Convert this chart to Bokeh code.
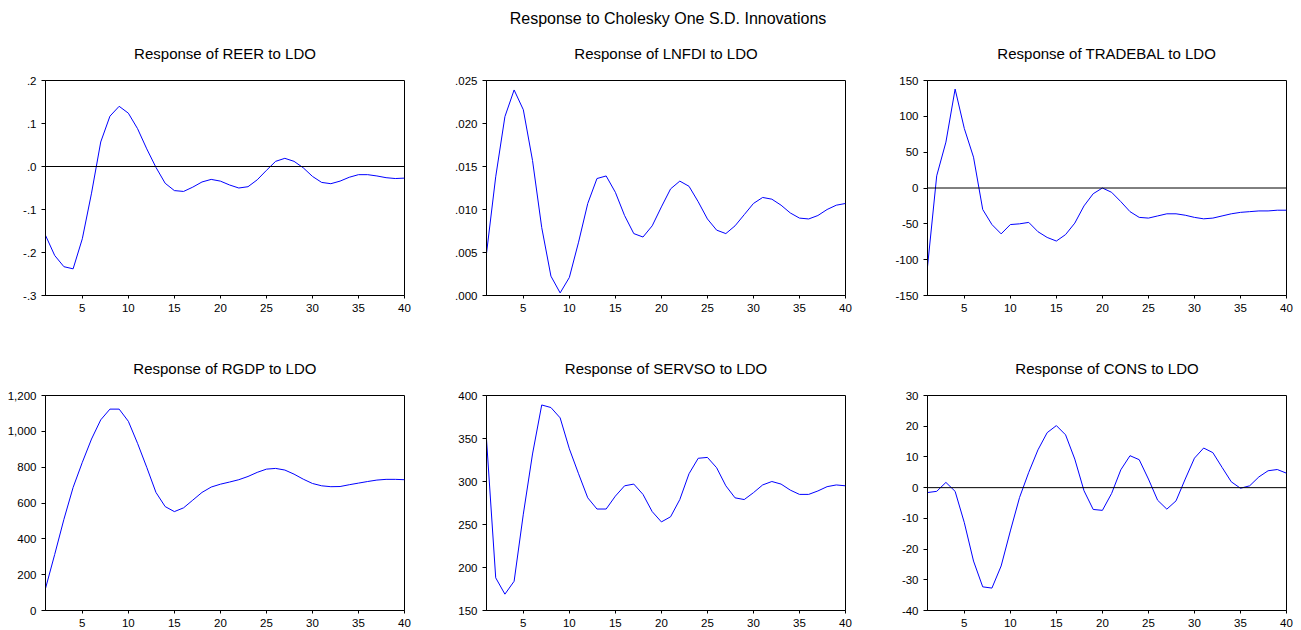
from bokeh.plotting import figure
from bokeh.layouts import column, row
from bokeh.models import FixedTicker, Span, Range1d, ColumnDataSource
from bokeh.embed import file_html
from bokeh.resources import INLINE

main_title = "Response to Cholesky One S.D. Innovations"
periods = list(range(1, 41))
x_ticks = [5, 10, 15, 20, 25, 30, 35, 40]

reer = [-0.160, -0.207, -0.233, -0.238, -0.168, -0.062, 0.057, 0.117, 0.140, 0.124,
        0.088, 0.041, -0.002, -0.039, -0.056, -0.058, -0.048, -0.036, -0.030, -0.034,
        -0.043, -0.050, -0.047, -0.031, -0.009, 0.012, 0.019, 0.012, -0.003, -0.023,
        -0.037, -0.040, -0.034, -0.025, -0.019, -0.019, -0.022, -0.026, -0.028, -0.027]
lnfdi = [0.0049, 0.0138, 0.0208, 0.0239, 0.0216, 0.0157, 0.0079, 0.00225, 0.0003, 0.0021,
         0.0062, 0.0107, 0.0136, 0.0139, 0.0120, 0.0093, 0.0072, 0.0068, 0.0081, 0.0103,
         0.0124, 0.0133, 0.0127, 0.0109, 0.0089, 0.0076, 0.0072, 0.0081, 0.0094, 0.0107,
         0.0114, 0.0112, 0.0105, 0.0096, 0.0090, 0.0089, 0.0093, 0.0100, 0.0105, 0.0107]
tradebal = [-110, 17, 64, 138, 83, 43, -30, -51, -64, -51,
            -50, -48, -61, -69, -74, -65, -49, -25, -8, 0,
            -6, -19, -33, -41, -42, -39, -36, -36, -38, -41,
            -43, -42, -39, -36, -34, -33, -32, -32, -31, -31]
rgdp = [123, 313, 509, 687, 827, 957, 1064, 1124, 1124, 1056,
        933, 799, 659, 580, 552, 573, 616, 659, 689, 705,
        717, 730, 748, 771, 789, 793, 784, 761, 733, 709,
        696, 691, 692, 702, 711, 720, 728, 732, 732, 730]
servso = [349, 188, 169, 184, 262, 332, 389, 386, 374, 338,
          309, 281, 268, 268, 283, 295, 297, 285, 265, 253,
          259, 279, 309, 327, 328, 316, 295, 281, 279, 287,
          296, 300, 297, 290, 285, 285, 289, 294, 296, 295]
cons = [-1.6, -1.2, 1.7, -1.2, -11.4, -23.9, -32.3, -32.7, -25.5, -14.1,
        -3.2, 5.0, 12.3, 17.9, 20.2, 17.2, 9.3, -1.0, -7.1, -7.4,
        -1.9, 5.8, 10.4, 9.1, 2.8, -4.1, -7.0, -4.3, 2.8, 9.6,
        12.9, 11.4, 6.6, 1.9, -0.2, 0.6, 3.5, 5.5, 5.9, 4.7]

titles = ["Response of REER to LDO", "Response of LNFDI to LDO", "Response of TRADEBAL to LDO",
          "Response of RGDP to LDO", "Response of SERVSO to LDO", "Response of CONS to LDO"]

ticks_reer = [-0.3, -0.2, -0.1, 0.0, 0.1, 0.2]
labels_reer = ["-.3", "-.2", "-.1", ".0", ".1", ".2"]
ticks_lnfdi = [0.0, 0.005, 0.01, 0.015, 0.02, 0.025]
labels_lnfdi = [".000", ".005", ".010", ".015", ".020", ".025"]
ticks_trade = [-150, -100, -50, 0, 50, 100, 150]
labels_trade = ["-150", "-100", "-50", "0", "50", "100", "150"]
ticks_rgdp = [0, 200, 400, 600, 800, 1000, 1200]
labels_rgdp = ["0", "200", "400", "600", "800", "1,000", "1,200"]
ticks_serv = [150, 200, 250, 300, 350, 400]
labels_serv = ["150", "200", "250", "300", "350", "400"]
ticks_cons = [-40, -30, -20, -10, 0, 10, 20, 30]
labels_cons = ["-40", "-30", "-20", "-10", "0", "10", "20", "30"]

all_ticks = [ticks_reer, ticks_lnfdi, ticks_trade, ticks_rgdp, ticks_serv, ticks_cons]
all_labels = [labels_reer, labels_lnfdi, labels_trade, labels_rgdp, labels_serv, labels_cons]
zero_lines = [True, False, True, False, False, True]

FONT = "Liberation Sans"

src = ColumnDataSource(dict(period=periods, reer=reer, lnfdi=lnfdi, tradebal=tradebal,
                            rgdp=rgdp, servso=servso, cons=cons))
cols = ["reer", "lnfdi", "tradebal", "rgdp", "servso", "cons"]


def title_strip(text, width, left, right, height, top, size):
    t = figure(width=width, height=height, x_range=(0, 1), y_range=(0, 1),
               x_axis_location=None, y_axis_location=None,
               toolbar_location=None, output_backend="svg",
               min_border_left=left, min_border_right=right,
               min_border_top=top, min_border_bottom=0)
    t.outline_line_color = None
    t.grid.visible = False
    t.title.text = text
    t.title.align = "center"
    t.title.vertical_align = "top"
    t.title.text_font = FONT
    t.title.text_font_size = size
    t.title.text_font_style = "normal"
    t.title.text_color = "#000000"
    return t


def make_panel(i):
    top_row = i < 3
    last_col = (i % 3) == 2
    ticks = all_ticks[i]
    p = figure(frame_width=359, frame_height=215, title=None,
               x_range=Range1d(periods[0], periods[-1]),
               y_range=Range1d(ticks[0], ticks[-1]),
               toolbar_location=None, output_backend="svg",
               min_border_left=45, min_border_right=(15 if last_col else 37),
               min_border_top=5, min_border_bottom=(59 if top_row else 20))
    p.grid.visible = False
    p.outline_line_color = "#000000"
    p.outline_line_width = 1
    p.background_fill_color = "white"
    p.border_fill_color = "white"

    if zero_lines[i]:
        p.add_layout(Span(location=0, dimension="width", line_color="#000000", line_width=1))

    p.line(x="period", y=cols[i], source=src, line_color="#0000FF", line_width=1)

    p.xaxis.ticker = FixedTicker(ticks=x_ticks)
    p.yaxis.ticker = FixedTicker(ticks=ticks)
    p.yaxis.major_label_overrides = {t: l for t, l in zip(ticks, all_labels[i])}
    for ax in (p.xaxis[0], p.yaxis[0]):
        ax.minor_tick_line_color = None
        ax.major_tick_in = 0
        ax.axis_line_color = "#000000"
        ax.major_tick_line_color = "#000000"
        ax.major_label_text_font = FONT
        ax.major_label_text_font_size = "11.5px"
        ax.major_label_text_color = "#000000"
    p.xaxis.major_tick_out = 3
    p.xaxis.major_label_standoff = 5
    p.yaxis.major_tick_out = 4
    p.yaxis.major_label_standoff = 5
    return p


def strip_row(start):
    figs = []
    for i in range(start, start + 3):
        last_col = (i % 3) == 2
        figs.append(title_strip(titles[i], 419 if last_col else 441, 45,
                                15 if last_col else 37, 36, 28, "15px"))
    return row(*figs)


header = title_strip(main_title, 1301, 34, 0, 39, 33, "16px")

panels = [make_panel(i) for i in range(6)]
layout = column(header,
                strip_row(0), row(*panels[:3]),
                strip_row(3), row(*panels[3:]))

open("out.html", "w").write(file_html(layout, INLINE))
